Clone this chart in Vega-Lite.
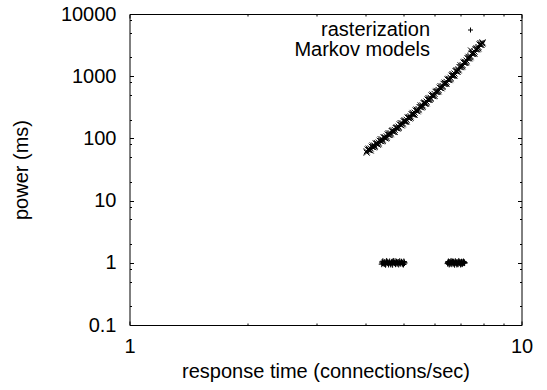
{
  "$schema": "https://vega.github.io/schema/vega-lite/v6.json",
  "width": 392,
  "height": 311,
  "autosize": "none",
  "padding": {"left": 129.5, "top": 14, "right": 25.5, "bottom": 65},
  "config": {
    "font": "Liberation Sans",
    "view": {"stroke": null},
    "axis": {
      "domainColor": "black", "tickColor": "black", "labelColor": "black", "titleColor": "black",
      "labelFontSize": 20, "titleFontSize": 20, "titleFontWeight": "normal",
      "labelFont": "Liberation Sans", "titleFont": "Liberation Sans",
      "grid": false, "labelFlush": false, "labelOverlap": false,
      "tickWidth": 1, "domainWidth": 1
    }
  },
  "data": {
    "values": [
      {"series": "Markov models", "rt": 4.028, "power": 59},
      {"series": "Markov models", "rt": 4.076, "power": 68.6},
      {"series": "Markov models", "rt": 4.124, "power": 64.0},
      {"series": "Markov models", "rt": 4.173, "power": 77.1},
      {"series": "Markov models", "rt": 4.222, "power": 73.6},
      {"series": "Markov models", "rt": 4.272, "power": 84.4},
      {"series": "Markov models", "rt": 4.322, "power": 80.7},
      {"series": "Markov models", "rt": 4.373, "power": 97.2},
      {"series": "Markov models", "rt": 4.425, "power": 91.2},
      {"series": "Markov models", "rt": 4.477, "power": 104.9},
      {"series": "Markov models", "rt": 4.530, "power": 101.4},
      {"series": "Markov models", "rt": 4.583, "power": 121.3},
      {"series": "Markov models", "rt": 4.637, "power": 116.5},
      {"series": "Markov models", "rt": 4.692, "power": 135.5},
      {"series": "Markov models", "rt": 4.748, "power": 127.4},
      {"series": "Markov models", "rt": 4.804, "power": 151.4},
      {"series": "Markov models", "rt": 4.860, "power": 147.1},
      {"series": "Markov models", "rt": 4.918, "power": 176.3},
      {"series": "Markov models", "rt": 4.976, "power": 168.4},
      {"series": "Markov models", "rt": 5.033, "power": 196.2},
      {"series": "Markov models", "rt": 5.093, "power": 187.4},
      {"series": "Markov models", "rt": 5.153, "power": 221.2},
      {"series": "Markov models", "rt": 5.214, "power": 215.7},
      {"series": "Markov models", "rt": 5.275, "power": 256.8},
      {"series": "Markov models", "rt": 5.338, "power": 240.9},
      {"series": "Markov models", "rt": 5.401, "power": 290.6},
      {"series": "Markov models", "rt": 5.464, "power": 284.4},
      {"series": "Markov models", "rt": 5.529, "power": 339.2},
      {"series": "Markov models", "rt": 5.594, "power": 322.6},
      {"series": "Markov models", "rt": 5.659, "power": 378.4},
      {"series": "Markov models", "rt": 5.726, "power": 367.0},
      {"series": "Markov models", "rt": 5.794, "power": 443.9},
      {"series": "Markov models", "rt": 5.862, "power": 431.6},
      {"series": "Markov models", "rt": 5.931, "power": 507.2},
      {"series": "Markov models", "rt": 6.001, "power": 482.8},
      {"series": "Markov models", "rt": 6.072, "power": 580.5},
      {"series": "Markov models", "rt": 6.144, "power": 570.8},
      {"series": "Markov models", "rt": 6.216, "power": 692.2},
      {"series": "Markov models", "rt": 6.290, "power": 669.2},
      {"series": "Markov models", "rt": 6.364, "power": 788.8},
      {"series": "Markov models", "rt": 6.439, "power": 761.6},
      {"series": "Markov models", "rt": 6.515, "power": 909.7},
      {"series": "Markov models", "rt": 6.592, "power": 897.3},
      {"series": "Markov models", "rt": 6.670, "power": 1081.8},
      {"series": "Markov models", "rt": 6.748, "power": 1026.3},
      {"series": "Markov models", "rt": 6.828, "power": 1252.7},
      {"series": "Markov models", "rt": 6.909, "power": 1240.3},
      {"series": "Markov models", "rt": 6.990, "power": 1496.9},
      {"series": "Markov models", "rt": 7.073, "power": 1439.3},
      {"series": "Markov models", "rt": 7.156, "power": 1709.8},
      {"series": "Markov models", "rt": 7.240, "power": 1677},
      {"series": "Markov models", "rt": 7.326, "power": 2053},
      {"series": "Markov models", "rt": 7.412, "power": 2019},
      {"series": "Markov models", "rt": 7.500, "power": 2401},
      {"series": "Markov models", "rt": 7.588, "power": 2313},
      {"series": "Markov models", "rt": 7.678, "power": 2815},
      {"series": "Markov models", "rt": 7.768, "power": 2800},
      {"series": "Markov models", "rt": 7.860, "power": 3403},
      {"series": "Markov models", "rt": 7.953, "power": 3360},
      {"series": "Markov models", "rt": 4.052, "power": 66.2},
      {"series": "Markov models", "rt": 4.100, "power": 64.4},
      {"series": "Markov models", "rt": 4.148, "power": 73.6},
      {"series": "Markov models", "rt": 4.197, "power": 71.7},
      {"series": "Markov models", "rt": 4.247, "power": 82.9},
      {"series": "Markov models", "rt": 4.297, "power": 79.3},
      {"series": "Markov models", "rt": 4.347, "power": 91.8},
      {"series": "Markov models", "rt": 4.399, "power": 89.7},
      {"series": "Markov models", "rt": 4.451, "power": 103.8},
      {"series": "Markov models", "rt": 4.503, "power": 99.6},
      {"series": "Markov models", "rt": 4.556, "power": 115.6},
      {"series": "Markov models", "rt": 4.610, "power": 113.2},
      {"series": "Markov models", "rt": 4.664, "power": 131.5},
      {"series": "Markov models", "rt": 4.720, "power": 126.4},
      {"series": "Markov models", "rt": 4.776, "power": 147.0},
      {"series": "Markov models", "rt": 4.832, "power": 144.2},
      {"series": "Markov models", "rt": 4.889, "power": 167.8},
      {"series": "Markov models", "rt": 4.947, "power": 161.6},
      {"series": "Markov models", "rt": 5.004, "power": 188.4},
      {"series": "Markov models", "rt": 5.063, "power": 185.4},
      {"series": "Markov models", "rt": 5.123, "power": 216.4},
      {"series": "Markov models", "rt": 5.183, "power": 208.9},
      {"series": "Markov models", "rt": 5.244, "power": 244.0},
      {"series": "Markov models", "rt": 5.306, "power": 240.6},
      {"series": "Markov models", "rt": 5.369, "power": 281.3},
      {"series": "Markov models", "rt": 5.432, "power": 272.2},
      {"series": "Markov models", "rt": 5.496, "power": 318.9},
      {"series": "Markov models", "rt": 5.561, "power": 315.2},
      {"series": "Markov models", "rt": 5.626, "power": 369.3},
      {"series": "Markov models", "rt": 5.692, "power": 358.2},
      {"series": "Markov models", "rt": 5.760, "power": 420.8},
      {"series": "Markov models", "rt": 5.828, "power": 416.8},
      {"series": "Markov models", "rt": 5.896, "power": 489.6},
      {"series": "Markov models", "rt": 5.966, "power": 476.0},
      {"series": "Markov models", "rt": 6.036, "power": 560.2},
      {"series": "Markov models", "rt": 6.108, "power": 556.3},
      {"series": "Markov models", "rt": 6.180, "power": 655.0},
      {"series": "Markov models", "rt": 6.253, "power": 638.4},
      {"series": "Markov models", "rt": 6.327, "power": 753.1},
      {"series": "Markov models", "rt": 6.401, "power": 749.5},
      {"series": "Markov models", "rt": 6.477, "power": 884.6},
      {"series": "Markov models", "rt": 6.553, "power": 864.1},
      {"series": "Markov models", "rt": 6.631, "power": 1021.9},
      {"series": "Markov models", "rt": 6.709, "power": 1019.5},
      {"series": "Markov models", "rt": 6.788, "power": 1205.7},
      {"series": "Markov models", "rt": 6.868, "power": 1180.4},
      {"series": "Markov models", "rt": 6.949, "power": 1399.3},
      {"series": "Markov models", "rt": 7.031, "power": 1398.7},
      {"series": "Markov models", "rt": 7.114, "power": 1658.5},
      {"series": "Markov models", "rt": 7.198, "power": 1628.3},
      {"series": "Markov models", "rt": 7.283, "power": 1934.9},
      {"series": "Markov models", "rt": 7.369, "power": 1939.2},
      {"series": "Markov models", "rt": 7.456, "power": 2304.8},
      {"series": "Markov models", "rt": 7.544, "power": 2267.7},
      {"series": "Markov models", "rt": 7.633, "power": 2700.9},
      {"series": "Markov models", "rt": 7.723, "power": 2713.9},
      {"series": "Markov models", "rt": 7.814, "power": 3232.4},
      {"series": "Markov models", "rt": 7.906, "power": 3187.3},
      {"series": "Markov models", "rt": 4.028, "power": 62.0},
      {"series": "Markov models", "rt": 4.076, "power": 65.3},
      {"series": "Markov models", "rt": 4.124, "power": 68.8},
      {"series": "Markov models", "rt": 4.173, "power": 72.7},
      {"series": "Markov models", "rt": 4.222, "power": 76.7},
      {"series": "Markov models", "rt": 4.272, "power": 81.2},
      {"series": "Markov models", "rt": 4.322, "power": 85.8},
      {"series": "Markov models", "rt": 4.373, "power": 90.8},
      {"series": "Markov models", "rt": 4.425, "power": 96.0},
      {"series": "Markov models", "rt": 4.477, "power": 101.8},
      {"series": "Markov models", "rt": 4.530, "power": 107.9},
      {"series": "Markov models", "rt": 4.583, "power": 114.4},
      {"series": "Markov models", "rt": 4.637, "power": 121.4},
      {"series": "Markov models", "rt": 4.692, "power": 129.0},
      {"series": "Markov models", "rt": 4.748, "power": 137.0},
      {"series": "Markov models", "rt": 4.804, "power": 145.6},
      {"series": "Markov models", "rt": 4.860, "power": 154.8},
      {"series": "Markov models", "rt": 4.918, "power": 164.8},
      {"series": "Markov models", "rt": 4.976, "power": 175.4},
      {"series": "Markov models", "rt": 5.033, "power": 186.9},
      {"series": "Markov models", "rt": 5.093, "power": 199.4},
      {"series": "Markov models", "rt": 5.153, "power": 212.7},
      {"series": "Markov models", "rt": 5.214, "power": 227.0},
      {"series": "Markov models", "rt": 5.275, "power": 242.3},
      {"series": "Markov models", "rt": 5.338, "power": 259.0},
      {"series": "Markov models", "rt": 5.401, "power": 276.8},
      {"series": "Markov models", "rt": 5.464, "power": 296.2},
      {"series": "Markov models", "rt": 5.529, "power": 317.0},
      {"series": "Markov models", "rt": 5.594, "power": 339.6},
      {"series": "Markov models", "rt": 5.659, "power": 363.8},
      {"series": "Markov models", "rt": 5.726, "power": 390.4},
      {"series": "Markov models", "rt": 5.794, "power": 418.8},
      {"series": "Markov models", "rt": 5.862, "power": 449.6},
      {"series": "Markov models", "rt": 5.931, "power": 483.0},
      {"series": "Markov models", "rt": 6.001, "power": 519.1},
      {"series": "Markov models", "rt": 6.072, "power": 558.2},
      {"series": "Markov models", "rt": 6.144, "power": 600.8},
      {"series": "Markov models", "rt": 6.216, "power": 646.9},
      {"series": "Markov models", "rt": 6.290, "power": 697.1},
      {"series": "Markov models", "rt": 6.364, "power": 751.2},
      {"series": "Markov models", "rt": 6.439, "power": 810.2},
      {"series": "Markov models", "rt": 6.515, "power": 874.7},
      {"series": "Markov models", "rt": 6.592, "power": 944.5},
      {"series": "Markov models", "rt": 6.670, "power": 1020.6},
      {"series": "Markov models", "rt": 6.748, "power": 1103.5},
      {"series": "Markov models", "rt": 6.828, "power": 1193},
      {"series": "Markov models", "rt": 6.909, "power": 1292},
      {"series": "Markov models", "rt": 6.990, "power": 1399},
      {"series": "Markov models", "rt": 7.073, "power": 1515},
      {"series": "Markov models", "rt": 7.156, "power": 1644},
      {"series": "Markov models", "rt": 7.240, "power": 1784},
      {"series": "Markov models", "rt": 7.326, "power": 1937},
      {"series": "Markov models", "rt": 7.412, "power": 2103},
      {"series": "Markov models", "rt": 7.500, "power": 2287},
      {"series": "Markov models", "rt": 7.588, "power": 2487},
      {"series": "Markov models", "rt": 7.678, "power": 2707},
      {"series": "Markov models", "rt": 7.768, "power": 2947},
      {"series": "Markov models", "rt": 7.860, "power": 3210},
      {"series": "Markov models", "rt": 7.953, "power": 3500},
      {"series": "rasterization", "rt": 4.40, "power": 0.95},
      {"series": "rasterization", "rt": 4.43, "power": 1.06},
      {"series": "rasterization", "rt": 4.45, "power": 0.98},
      {"series": "rasterization", "rt": 4.48, "power": 1.03},
      {"series": "rasterization", "rt": 4.50, "power": 0.93},
      {"series": "rasterization", "rt": 4.53, "power": 1.07},
      {"series": "rasterization", "rt": 4.55, "power": 1.00},
      {"series": "rasterization", "rt": 4.58, "power": 0.94},
      {"series": "rasterization", "rt": 4.61, "power": 1.05},
      {"series": "rasterization", "rt": 4.63, "power": 0.97},
      {"series": "rasterization", "rt": 4.66, "power": 1.02},
      {"series": "rasterization", "rt": 4.69, "power": 0.93},
      {"series": "rasterization", "rt": 4.71, "power": 1.07},
      {"series": "rasterization", "rt": 4.74, "power": 0.99},
      {"series": "rasterization", "rt": 4.77, "power": 0.95},
      {"series": "rasterization", "rt": 4.80, "power": 1.04},
      {"series": "rasterization", "rt": 4.83, "power": 1.01},
      {"series": "rasterization", "rt": 4.86, "power": 0.94},
      {"series": "rasterization", "rt": 4.89, "power": 1.06},
      {"series": "rasterization", "rt": 4.92, "power": 0.97},
      {"series": "rasterization", "rt": 4.95, "power": 1.03},
      {"series": "rasterization", "rt": 4.98, "power": 0.95},
      {"series": "rasterization", "rt": 5.01, "power": 1.05},
      {"series": "rasterization", "rt": 5.03, "power": 0.99},
      {"series": "rasterization", "rt": 4.41, "power": 1.03},
      {"series": "rasterization", "rt": 4.47, "power": 0.96},
      {"series": "rasterization", "rt": 4.52, "power": 1.04},
      {"series": "rasterization", "rt": 4.57, "power": 0.99},
      {"series": "rasterization", "rt": 4.64, "power": 0.94},
      {"series": "rasterization", "rt": 4.70, "power": 1.02},
      {"series": "rasterization", "rt": 4.76, "power": 1.06},
      {"series": "rasterization", "rt": 4.82, "power": 0.97},
      {"series": "rasterization", "rt": 4.88, "power": 1.00},
      {"series": "rasterization", "rt": 4.94, "power": 1.04},
      {"series": "rasterization", "rt": 5.00, "power": 0.94},
      {"series": "rasterization", "rt": 4.42, "power": 0.99},
      {"series": "rasterization", "rt": 4.46, "power": 1.01},
      {"series": "rasterization", "rt": 4.51, "power": 0.97},
      {"series": "rasterization", "rt": 4.56, "power": 1.03},
      {"series": "rasterization", "rt": 4.60, "power": 1.00},
      {"series": "rasterization", "rt": 4.65, "power": 0.98},
      {"series": "rasterization", "rt": 4.68, "power": 1.04},
      {"series": "rasterization", "rt": 4.73, "power": 1.01},
      {"series": "rasterization", "rt": 4.78, "power": 0.97},
      {"series": "rasterization", "rt": 4.81, "power": 1.00},
      {"series": "rasterization", "rt": 4.85, "power": 1.03},
      {"series": "rasterization", "rt": 4.90, "power": 0.98},
      {"series": "rasterization", "rt": 4.93, "power": 1.01},
      {"series": "rasterization", "rt": 4.97, "power": 0.99},
      {"series": "rasterization", "rt": 5.02, "power": 1.02},
      {"series": "rasterization", "rt": 6.48, "power": 0.97},
      {"series": "rasterization", "rt": 6.51, "power": 1.05},
      {"series": "rasterization", "rt": 6.54, "power": 0.94},
      {"series": "rasterization", "rt": 6.58, "power": 1.02},
      {"series": "rasterization", "rt": 6.61, "power": 1.07},
      {"series": "rasterization", "rt": 6.64, "power": 0.95},
      {"series": "rasterization", "rt": 6.68, "power": 1.00},
      {"series": "rasterization", "rt": 6.71, "power": 1.04},
      {"series": "rasterization", "rt": 6.75, "power": 0.93},
      {"series": "rasterization", "rt": 6.78, "power": 1.06},
      {"series": "rasterization", "rt": 6.82, "power": 0.98},
      {"series": "rasterization", "rt": 6.85, "power": 1.03},
      {"series": "rasterization", "rt": 6.89, "power": 0.95},
      {"series": "rasterization", "rt": 6.92, "power": 1.07},
      {"series": "rasterization", "rt": 6.96, "power": 0.99},
      {"series": "rasterization", "rt": 6.99, "power": 0.94},
      {"series": "rasterization", "rt": 7.03, "power": 1.04},
      {"series": "rasterization", "rt": 7.07, "power": 0.97},
      {"series": "rasterization", "rt": 7.11, "power": 1.05},
      {"series": "rasterization", "rt": 7.16, "power": 0.99},
      {"series": "rasterization", "rt": 6.50, "power": 1.02},
      {"series": "rasterization", "rt": 6.57, "power": 0.96},
      {"series": "rasterization", "rt": 6.66, "power": 1.05},
      {"series": "rasterization", "rt": 6.74, "power": 0.98},
      {"series": "rasterization", "rt": 6.84, "power": 0.94},
      {"series": "rasterization", "rt": 6.94, "power": 1.02},
      {"series": "rasterization", "rt": 7.05, "power": 0.95},
      {"series": "rasterization", "rt": 7.13, "power": 1.03},
      {"series": "rasterization", "rt": 6.49, "power": 1.00},
      {"series": "rasterization", "rt": 6.53, "power": 0.98},
      {"series": "rasterization", "rt": 6.56, "power": 1.03},
      {"series": "rasterization", "rt": 6.60, "power": 0.99},
      {"series": "rasterization", "rt": 6.63, "power": 1.01},
      {"series": "rasterization", "rt": 6.67, "power": 1.03},
      {"series": "rasterization", "rt": 6.70, "power": 0.97},
      {"series": "rasterization", "rt": 6.73, "power": 1.00},
      {"series": "rasterization", "rt": 6.77, "power": 1.02},
      {"series": "rasterization", "rt": 6.80, "power": 0.99},
      {"series": "rasterization", "rt": 6.83, "power": 1.01},
      {"series": "rasterization", "rt": 6.87, "power": 0.97},
      {"series": "rasterization", "rt": 6.90, "power": 1.02},
      {"series": "rasterization", "rt": 6.93, "power": 0.99},
      {"series": "rasterization", "rt": 6.97, "power": 1.03},
      {"series": "rasterization", "rt": 7.01, "power": 1.00},
      {"series": "rasterization", "rt": 7.04, "power": 0.98},
      {"series": "rasterization", "rt": 7.08, "power": 1.02},
      {"series": "rasterization", "rt": 7.12, "power": 0.99},
      {"series": "rasterization", "rt": 7.15, "power": 1.01}
    ]
  },
  "layer": [
    {
      "mark": {"type": "point", "filled": false, "strokeWidth": 1, "size": 36, "opacity": 1},
      "encoding": {
        "x": {
          "field": "rt", "type": "quantitative",
          "scale": {"type": "log", "domain": [1, 10], "nice": false},
          "axis": {
            "orient": "bottom",
            "values": [1, 2, 3, 4, 5, 6, 7, 8, 9, 10],
            "labelExpr": "datum.value == 1 || datum.value == 10 ? format(datum.value, '~g') : ''",
            "tickSize": {"condition": {"test": "datum.value == 1 || datum.value == 10", "value": -4}, "value": -2},
            "labelPadding": 15,
            "title": "response time (connections/sec)",
            "titleY": 52,
            "titleBaseline": "alphabetic"
          }
        },
        "y": {
          "field": "power", "type": "quantitative",
          "scale": {"type": "log", "domain": [0.1, 10000], "nice": false},
          "axis": {
            "orient": "left",
            "values": [0.1, 0.2, 0.5, 0.8, 1, 2, 5, 8, 10, 20, 50, 80, 100, 200, 500, 800, 1000, 2000, 5000, 8000, 10000],
            "labelExpr": "abs(log(datum.value)/LN10 - round(log(datum.value)/LN10)) < 0.001 ? format(datum.value, '~g') : ''",
            "tickSize": {"condition": {"test": "abs(log(datum.value)/LN10 - round(log(datum.value)/LN10)) < 0.001", "value": -4}, "value": -2},
            "labelPadding": 17.5,
            "title": "power (ms)",
            "titleX": -108,
            "titleBaseline": "middle"
          }
        },
        "shape": {
          "field": "series", "type": "nominal",
          "scale": {"domain": ["rasterization", "Markov models"], "range": ["M-1,0H1M0,-1V1", "M-1,-1L1,1M-1,1L1,-1"]},
          "legend": {
            "title": null,
            "orient": "none",
            "legendX": 331,
            "legendY": 6,
            "direction": "vertical",
            "padding": 0,
            "rowPadding": 0,
            "labelAlign": "right",
            "labelOffset": -50.5,
            "labelFontSize": 20,
            "labelFont": "Liberation Sans",
            "labelColor": "black",
            "symbolSize": 25,
            "symbolStrokeColor": "black",
            "symbolStrokeWidth": 1,
            "symbolFillColor": "transparent"
          }
        },
        "color": {"value": "black"}
      }
    },
    {
      "mark": {"type": "point", "opacity": 0},
      "encoding": {
        "x": {
          "field": "rt", "type": "quantitative",
          "axis": {
            "orient": "top",
            "values": [1, 2, 3, 4, 5, 6, 7, 8, 9, 10],
            "labels": false,
            "title": null,
            "tickSize": {"condition": {"test": "datum.value == 1 || datum.value == 10", "value": -4}, "value": -2}
          }
        },
        "y": {
          "field": "power", "type": "quantitative",
          "axis": {
            "orient": "right",
            "values": [0.1, 0.2, 0.5, 0.8, 1, 2, 5, 8, 10, 20, 50, 80, 100, 200, 500, 800, 1000, 2000, 5000, 8000, 10000],
            "labels": false,
            "title": null,
            "tickSize": {"condition": {"test": "abs(log(datum.value)/LN10 - round(log(datum.value)/LN10)) < 0.001", "value": -4}, "value": -2}
          }
        }
      }
    }
  ],
  "resolve": {"axis": {"x": "independent", "y": "independent"}}
}
